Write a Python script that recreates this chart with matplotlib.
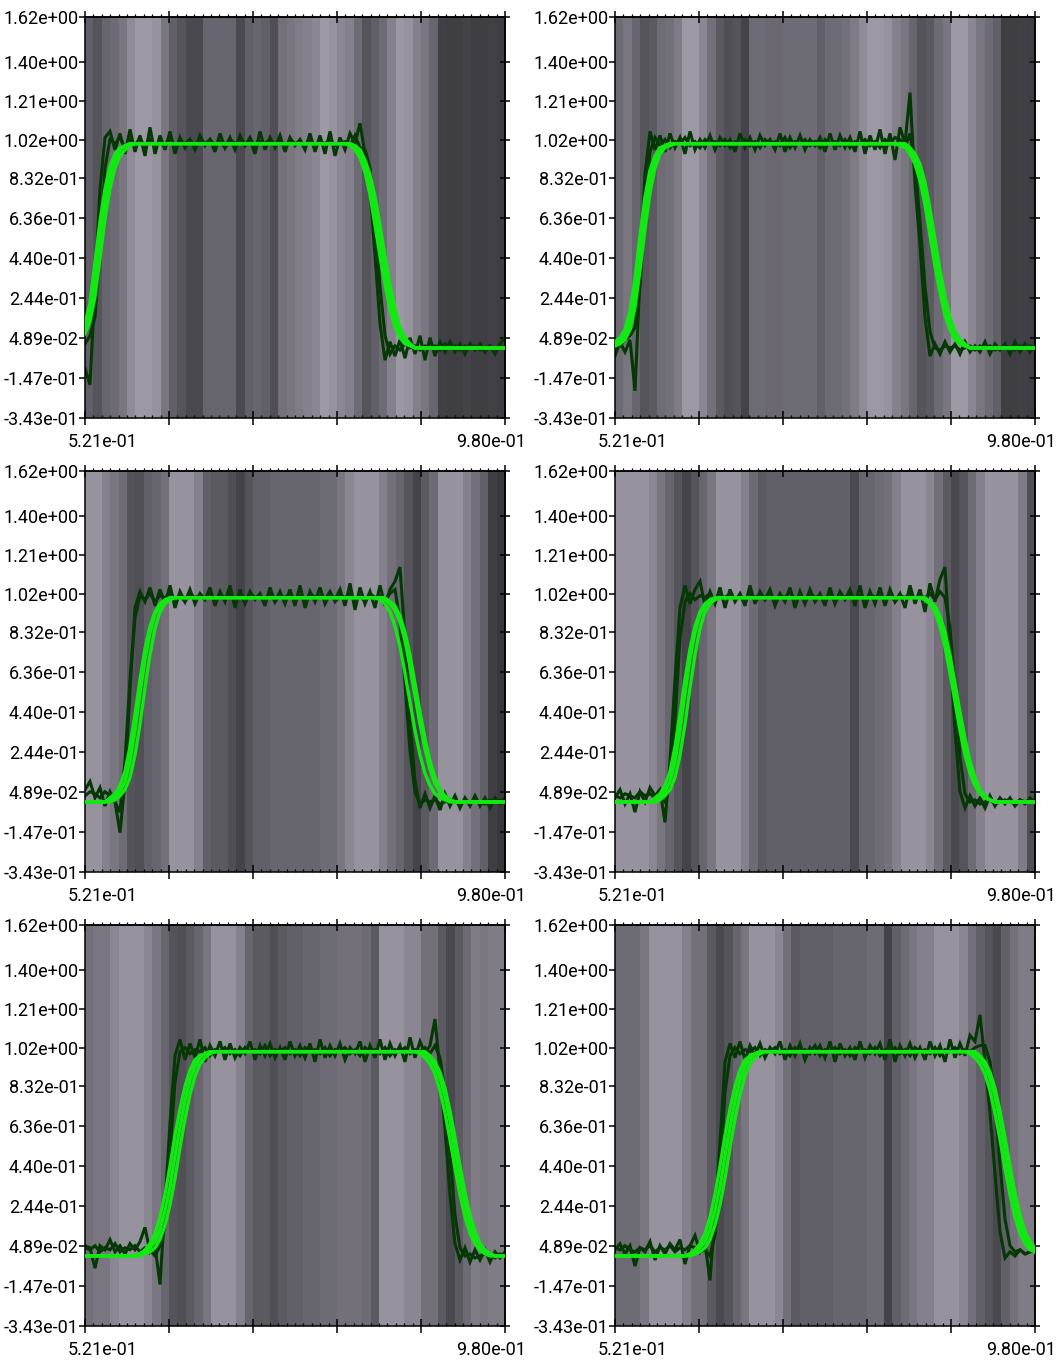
import numpy as np
import matplotlib
matplotlib.use("Agg")
import matplotlib.pyplot as plt
import matplotlib.transforms as mtransforms
from matplotlib.colors import LinearSegmentedColormap

plt.rcParams['font.family'] = ['Roboto', 'DejaVu Sans']

# axis ranges and labels
x_min, x_max = 0.521, 0.980
y_min, y_max = -0.343, 1.62
y_ticks = [-0.343, -0.147, 0.0489, 0.244, 0.440, 0.636, 0.832, 1.02, 1.21, 1.40, 1.62]
y_tick_labels = ['-3.43e-01', '-1.47e-01', '4.89e-02', '2.44e-01', '4.40e-01', '6.36e-01',
                 '8.32e-01', '1.02e+00', '1.21e+00', '1.40e+00', '1.62e+00']
x_end_labels = ['5.21e-01', '9.80e-01']

# background stripe shades (0 = dark, 1 = light), left to right
tl_bg = [0.4, 0.3, 0.45, 0.5, 0.6, 0.8, 0.9, 0.9, 0.85, 0.6, 0.4, 0.3, 0.2, 0.2, 0.45, 0.45, 0.45, 0.45, 0.2, 0.4,
         0.45, 0.4, 0.25, 0.55, 0.6, 0.65, 0.7, 0.75, 0.9, 0.85, 0.75, 0.7, 0.5, 0.3, 0.4, 0.5, 0.7, 0.9, 0.85, 0.7,
         0.6, 0.45, 0.12, 0.1, 0.1, 0.15, 0.1, 0.1, 0.12, 0.1]
tr_bg = [0.5, 0.6, 0.45, 0.3, 0.35, 0.5, 0.55, 0.65, 0.9, 0.9, 0.75, 0.55, 0.35, 0.25, 0.3, 0.15, 0.5, 0.5, 0.48, 0.48,
         0.5, 0.5, 0.5, 0.5, 0.4, 0.5, 0.5, 0.55, 0.65, 0.8, 0.9, 0.9, 0.85, 0.7, 0.6, 0.45, 0.3, 0.35, 0.5, 0.6,
         0.9, 0.9, 0.75, 0.6, 0.5, 0.4, 0.1, 0.1, 0.12, 0.1]
ml_bg = [0.85, 0.85, 0.7, 0.6, 0.5, 0.3, 0.25, 0.4, 0.45, 0.55, 0.85, 0.85, 0.85, 0.7, 0.4, 0.35, 0.35, 0.25, 0.15, 0.3,
         0.4, 0.4, 0.45, 0.45, 0.45, 0.45, 0.45, 0.45, 0.5, 0.5, 0.6, 0.75, 0.85, 0.85, 0.85, 0.7, 0.55, 0.45, 0.3, 0.15,
         0.35, 0.5, 0.85, 0.85, 0.85, 0.7, 0.55, 0.4, 0.1, 0.05]
mr_bg = [0.85, 0.85, 0.85, 0.85, 0.75, 0.6, 0.45, 0.3, 0.15, 0.3, 0.45, 0.6, 0.85, 0.85, 0.85, 0.7, 0.5, 0.35, 0.4, 0.4,
         0.4, 0.4, 0.4, 0.4, 0.4, 0.4, 0.4, 0.4, 0.2, 0.45, 0.45, 0.5, 0.55, 0.7, 0.85, 0.85, 0.85, 0.75, 0.55, 0.35,
         0.2, 0.3, 0.5, 0.7, 0.85, 0.85, 0.85, 0.85, 0.65, 0.25]
bl_bg = [0.55, 0.6, 0.6, 0.75, 0.85, 0.85, 0.85, 0.75, 0.6, 0.45, 0.3, 0.25, 0.35, 0.45, 0.6, 0.85, 0.85, 0.85, 0.7, 0.45,
         0.35, 0.35, 0.25, 0.35, 0.4, 0.4, 0.45, 0.45, 0.5, 0.5, 0.55, 0.55, 0.55, 0.5, 0.35, 0.85, 0.85, 0.85, 0.75, 0.75,
         0.55, 0.55, 0.35, 0.2, 0.35, 0.5, 0.65, 0.6, 0.65, 0.65]
br_bg = [0.5, 0.5, 0.5, 0.6, 0.85, 0.85, 0.85, 0.85, 0.7, 0.55, 0.55, 0.35, 0.2, 0.3, 0.45, 0.6, 0.85, 0.85, 0.85, 0.75,
         0.55, 0.35, 0.4, 0.4, 0.4, 0.4, 0.45, 0.45, 0.45, 0.45, 0.5, 0.5, 0.15, 0.4, 0.5, 0.6, 0.7, 0.7, 0.85, 0.85,
         0.85, 0.75, 0.55, 0.4, 0.3, 0.2, 0.4, 0.55, 0.65, 0.65]

# noisy (dark) solutions, 85 samples across the x range
tl_dark_a = [-0.10, -0.18, 0.30, 0.78, 1.03, 1.06, 0.97, 1.05, 0.95, 1.07,
             0.96, 1.04, 0.94, 1.08, 0.95, 1.04, 0.97, 1.06, 0.95, 1.03,
             0.98, 1.02, 0.97, 1.04, 0.99, 1.02, 0.96, 1.05, 0.98, 1.03,
             0.97, 1.04, 0.99, 1.02, 0.95, 1.06, 0.97, 1.03, 0.98, 1.04,
             0.96, 1.03, 0.99, 1.02, 0.97, 1.05, 0.96, 1.04, 0.95, 1.06,
             0.94, 1.03, 0.97, 1.05, 1.00, 1.10, 0.95, 0.78, 0.45, 0.12,
             -0.06, 0.03, -0.04, 0.04, -0.05, 0.05, -0.03, 0.06, -0.06, 0.05,
             -0.04, 0.03, -0.02, 0.03, -0.02, 0.02, -0.03, 0.02, -0.01, 0.02,
             -0.02, 0.01, -0.03, 0.02, 0.05]
tl_dark_b = [0.02, 0.06, 0.15, 0.50, 0.88, 1.02, 1.00, 1.03, 0.98, 1.02,
             0.99, 1.03, 0.98, 1.02, 0.99, 1.01, 0.98, 1.03, 0.99, 1.01,
             1.00, 1.02, 0.98, 1.01, 1.00, 1.02, 0.99, 1.01, 0.98, 1.02,
             1.00, 1.01, 0.99, 1.03, 0.98, 1.01, 1.00, 1.02, 0.99, 1.01,
             0.98, 1.02, 1.00, 1.01, 0.99, 1.02, 0.98, 1.01, 1.00, 1.02,
             0.99, 1.00, 1.01, 0.99, 1.04, 0.98, 0.97, 0.88, 0.62, 0.30,
             0.06, -0.03, 0.01, -0.01, 0.02, 0.00, 0.01, -0.01, 0.01, 0.00,
             0.01, -0.01, 0.02, 0.00, 0.01, -0.01, 0.01, 0.00, 0.01, -0.01,
             0.00, 0.01, -0.01, 0.01, 0.00]
tr_dark_a = [-0.04, 0.03, -0.02, 0.04, -0.21, 0.35, 0.85, 1.06, 0.97, 1.04,
             0.96, 1.05, 0.98, 1.03, 0.95, 1.06, 0.97, 1.02, 0.98, 1.04,
             0.97, 1.03, 0.99, 1.02, 0.96, 1.05, 0.98, 1.03, 0.97, 1.04,
             0.99, 1.02, 0.97, 1.05, 0.96, 1.03, 0.98, 1.04, 0.97, 1.02,
             0.99, 1.03, 0.96, 1.05, 0.97, 1.04, 0.98, 1.03, 0.96, 1.06,
             0.95, 1.04, 0.97, 1.07, 0.95, 1.05, 0.92, 1.08, 1.00, 1.25,
             0.80, 0.50, 0.15, -0.04, 0.02, -0.03, 0.03, -0.02, 0.02, -0.03,
             0.03, -0.02, 0.01, -0.02, 0.03, -0.03, 0.02, -0.01, 0.02, -0.03,
             0.03, -0.02, 0.02, -0.02, 0.01]
tr_dark_b = [0.02, 0.01, 0.04, 0.06, 0.10, 0.30, 0.70, 0.96, 1.03, 0.99,
             1.02, 0.98, 1.01, 1.00, 1.03, 0.99, 1.01, 0.98, 1.02, 1.00,
             1.01, 0.99, 1.02, 0.98, 1.01, 1.00, 1.02, 0.99, 1.01, 0.98,
             1.02, 1.00, 1.01, 0.99, 1.03, 0.98, 1.01, 1.00, 1.02, 0.99,
             1.01, 0.98, 1.02, 1.00, 1.01, 0.99, 1.02, 0.98, 1.01, 1.00,
             1.02, 0.99, 1.01, 0.98, 1.02, 1.00, 1.03, 1.02, 0.98, 1.05,
             0.90, 0.62, 0.30, 0.08, 0.00, -0.01, 0.01, 0.00, 0.01, -0.01,
             0.00, 0.01, -0.01, 0.01, 0.00, 0.01, -0.01, 0.00, 0.01, 0.00,
             -0.01, 0.01, 0.00, 0.01, 0.00]
ml_dark_a = [0.06, 0.10, 0.02, 0.07, -0.02, 0.05, 0.00, -0.15, 0.10, 0.55,
             0.95, 1.03, 0.98, 1.05, 0.96, 1.04, 0.97, 1.06, 0.95, 1.03,
             0.98, 1.04, 0.97, 1.02, 0.99, 1.05, 0.96, 1.03, 0.98, 1.06,
             0.95, 1.04, 0.97, 1.03, 0.99, 1.02, 0.96, 1.05, 0.98, 1.03,
             0.97, 1.04, 0.96, 1.06, 0.95, 1.03, 0.98, 1.05, 0.97, 1.02,
             0.99, 1.04, 0.96, 1.07, 0.94, 1.05, 0.97, 1.03, 0.95, 1.06,
             0.96, 1.04, 1.08, 1.15, 0.80, 0.40, 0.10, -0.03, 0.04, -0.03,
             0.03, -0.04, 0.04, -0.02, 0.03, -0.03, 0.02, -0.02, 0.03, -0.02,
             0.02, -0.03, 0.02, -0.01, 0.02]
ml_dark_b = [0.03, 0.05, 0.04, 0.02, 0.05, 0.03, 0.00, -0.05, 0.20, 0.60,
             0.90, 1.01, 0.99, 1.02, 0.98, 1.01, 1.00, 1.02, 0.99, 1.01,
             0.98, 1.02, 1.00, 1.01, 0.99, 1.03, 0.98, 1.01, 1.00, 1.02,
             0.99, 1.01, 0.98, 1.02, 1.00, 1.01, 0.99, 1.02, 0.98, 1.01,
             1.00, 1.02, 0.99, 1.01, 0.98, 1.02, 1.00, 1.01, 0.99, 1.03,
             0.98, 1.01, 1.00, 1.02, 0.99, 1.01, 0.98, 1.02, 1.00, 1.01,
             0.99, 1.02, 1.04, 0.88, 0.58, 0.25, 0.05, -0.01, 0.01, 0.00,
             0.01, -0.01, 0.00, 0.01, 0.00, -0.01, 0.01, 0.00, 0.01, 0.00,
             -0.01, 0.01, 0.00, 0.01, 0.00]
mr_dark_a = [0.02, 0.06, -0.01, 0.04, -0.05, 0.05, 0.00, 0.07, 0.03, 0.06,
             -0.10, 0.20, 0.60, 0.95, 1.06, 0.97, 1.04, 1.08, 0.96, 1.03,
             0.97, 1.05, 0.95, 1.04, 0.98, 1.02, 0.96, 1.06, 0.97, 1.03,
             0.99, 1.04, 0.96, 1.02, 0.98, 1.05, 0.95, 1.03, 0.97, 1.04,
             0.98, 1.02, 0.96, 1.05, 0.97, 1.03, 0.99, 1.04, 0.96, 1.06,
             0.95, 1.03, 0.97, 1.05, 0.96, 1.04, 0.98, 1.02, 0.95, 1.06,
             0.97, 1.04, 0.93, 1.07, 0.98, 1.09, 1.15, 0.75, 0.35, 0.05,
             -0.03, 0.03, -0.02, 0.02, -0.03, 0.03, -0.02, 0.02, -0.01, 0.02,
             -0.02, 0.01, -0.01, 0.02, 0.00]
mr_dark_b = [0.03, 0.02, 0.04, 0.03, 0.02, 0.05, 0.03, 0.04, 0.02, 0.03,
             0.00, 0.08, 0.40, 0.80, 0.98, 1.02, 0.99, 1.01, 1.00, 1.02,
             0.98, 1.01, 1.00, 1.02, 0.99, 1.01, 0.98, 1.02, 1.00, 1.01,
             0.99, 1.02, 0.98, 1.01, 1.00, 1.03, 0.99, 1.01, 0.98, 1.02,
             1.00, 1.01, 0.99, 1.02, 0.98, 1.01, 1.00, 1.02, 0.99, 1.01,
             0.98, 1.02, 1.00, 1.01, 0.99, 1.02, 0.98, 1.01, 1.00, 1.02,
             0.99, 1.01, 1.00, 1.02, 0.99, 1.03, 1.00, 0.85, 0.55, 0.22,
             0.04, 0.00, 0.01, -0.01, 0.00, 0.01, -0.01, 0.00, 0.01, 0.00,
             -0.01, 0.01, 0.00, 0.01, 0.00]
bl_dark_a = [0.05, 0.04, -0.06, 0.05, 0.03, 0.08, 0.02, 0.05, 0.01, 0.06,
             0.03, 0.07, 0.14, 0.02, 0.05, -0.14, 0.25, 0.65, 0.98, 1.06,
             0.96, 1.04, 0.97, 1.06, 0.95, 1.03, 0.98, 1.05, 0.96, 1.04,
             0.97, 1.02, 0.99, 1.05, 0.96, 1.03, 0.98, 1.04, 0.97, 1.02,
             0.96, 1.05, 0.98, 1.03, 0.97, 1.04, 0.95, 1.06, 0.97, 1.03,
             0.98, 1.04, 0.96, 1.02, 0.99, 1.05, 0.95, 1.03, 0.97, 1.06,
             0.96, 1.04, 0.98, 1.03, 0.95, 1.07, 0.97, 1.05, 0.99, 1.03,
             1.16, 0.90, 0.62, 0.30, 0.06, -0.02, 0.04, -0.03, 0.03, -0.02,
             0.03, -0.03, 0.02, -0.01, 0.02]
bl_dark_b = [0.04, 0.03, 0.05, 0.02, 0.04, 0.03, 0.06, 0.02, 0.04, 0.03,
             0.05, 0.02, 0.04, 0.03, 0.00, 0.05, 0.15, 0.50, 0.85, 1.00,
             1.02, 0.99, 1.01, 1.00, 1.02, 0.98, 1.01, 1.00, 1.02, 0.99,
             1.01, 0.98, 1.02, 1.00, 1.01, 0.99, 1.03, 0.98, 1.01, 1.00,
             1.02, 0.99, 1.01, 0.98, 1.02, 1.00, 1.01, 0.99, 1.02, 0.98,
             1.01, 1.00, 1.02, 0.99, 1.01, 0.98, 1.02, 1.00, 1.01, 0.99,
             1.02, 0.98, 1.01, 1.00, 1.02, 0.99, 1.01, 1.00, 1.02, 0.99,
             1.03, 0.97, 0.80, 0.50, 0.20, 0.04, 0.00, 0.01, -0.01, 0.00,
             0.01, 0.00, -0.01, 0.01, 0.00]
br_dark_a = [0.03, 0.06, 0.01, 0.05, -0.05, 0.04, 0.02, 0.07, -0.02, 0.05,
             0.01, 0.06, 0.03, 0.08, -0.04, 0.05, 0.10, 0.02, 0.06, -0.12,
             0.20, 0.55, 0.95, 1.04, 0.97, 1.05, 0.96, 1.03, 0.98, 1.04,
             0.97, 1.02, 0.99, 1.05, 0.96, 1.03, 0.98, 1.04, 0.96, 1.02,
             0.99, 1.03, 0.97, 1.05, 0.95, 1.04, 0.98, 1.02, 0.96, 1.05,
             0.97, 1.03, 0.99, 1.04, 0.96, 1.06, 0.95, 1.03, 0.98, 1.04,
             0.97, 1.02, 0.96, 1.05, 0.98, 1.03, 0.95, 1.06, 0.97, 1.04,
             0.98, 1.08, 1.05, 1.18, 0.95, 0.70, 0.40, 0.12, -0.01, 0.02,
             0.00, 0.03, 0.01, 0.02, 0.03]
br_dark_b = [0.04, 0.03, 0.05, 0.03, 0.02, 0.04, 0.03, 0.05, 0.02, 0.04,
             0.03, 0.05, 0.02, 0.04, 0.03, 0.05, 0.04, 0.02, 0.03, 0.00,
             0.10, 0.40, 0.80, 0.98, 1.02, 0.99, 1.01, 1.00, 1.02, 0.98,
             1.01, 1.00, 1.02, 0.99, 1.01, 0.98, 1.02, 1.00, 1.01, 0.99,
             1.03, 0.98, 1.01, 1.00, 1.02, 0.99, 1.01, 0.98, 1.02, 1.00,
             1.01, 0.99, 1.02, 0.98, 1.01, 1.00, 1.02, 0.99, 1.01, 0.98,
             1.02, 1.00, 1.01, 0.99, 1.02, 0.98, 1.01, 1.00, 1.02, 0.99,
             1.01, 1.00, 1.02, 1.03, 1.03, 0.95, 0.75, 0.45, 0.18, 0.05,
             0.02, 0.03, 0.01, 0.02, 0.03]

# smooth (bright) solutions, 85 samples across the x range
tl_bright_a = ([0.12, 0.22, 0.42, 0.62, 0.78, 0.89, 0.95, 0.98, 0.99] + [1.0] * 44
               + [0.99, 0.97, 0.93, 0.86, 0.75, 0.6, 0.45, 0.31, 0.19, 0.1, 0.05, 0.02, 0.01] + [0.0] * 19)
tl_bright_b = ([0.09, 0.17, 0.33, 0.53, 0.71, 0.84, 0.92, 0.97, 0.99] + [1.0] * 44
               + [1.0, 0.98, 0.95, 0.9, 0.81, 0.68, 0.53, 0.38, 0.25, 0.15, 0.08, 0.04, 0.02] + [0.0] * 19)
tl_bright_c = ([0.07, 0.13, 0.25, 0.44, 0.63, 0.78, 0.88, 0.94, 0.97, 0.99] + [1.0] * 43
               + [1.0, 0.99, 0.97, 0.92, 0.85, 0.74, 0.6, 0.45, 0.31, 0.19, 0.1, 0.05, 0.02] + [0.0] * 19)
tr_bright_a = ([0.02, 0.03, 0.06, 0.13, 0.27, 0.47, 0.67, 0.83, 0.92, 0.97, 0.99] + [1.0] * 47
               + [0.99, 0.97, 0.93, 0.86, 0.75, 0.6, 0.45, 0.31, 0.19, 0.1, 0.05, 0.02, 0.01] + [0.0] * 14)
tr_bright_b = ([0.01, 0.02, 0.04, 0.09, 0.2, 0.38, 0.58, 0.76, 0.88, 0.95, 0.98, 0.99] + [1.0] * 46
               + [1.0, 0.98, 0.95, 0.9, 0.81, 0.68, 0.53, 0.38, 0.25, 0.15, 0.08, 0.04, 0.02] + [0.0] * 14)
tr_bright_c = ([0.03, 0.05, 0.09, 0.18, 0.34, 0.55, 0.74, 0.87, 0.94, 0.98, 0.99] + [1.0] * 46
               + [0.99, 0.98, 0.95, 0.9, 0.82, 0.7, 0.55, 0.4, 0.27, 0.16, 0.09, 0.04, 0.02, 0.01] + [0.0] * 14)
ml_bright_a = ([0.0] * 5 + [0.01, 0.02, 0.05, 0.1, 0.2, 0.35, 0.53, 0.7, 0.83, 0.92, 0.96, 0.98, 0.99] + [1.0] * 42
               + [0.99, 0.97, 0.94, 0.88, 0.79, 0.66, 0.52, 0.38, 0.26, 0.16, 0.09, 0.05, 0.02, 0.01] + [0.0] * 11)
ml_bright_b = ([0.0] * 5 + [0.02, 0.04, 0.08, 0.15, 0.27, 0.43, 0.6, 0.75, 0.86, 0.93, 0.97, 0.99] + [1.0] * 43
               + [1.0, 0.98, 0.96, 0.91, 0.83, 0.72, 0.58, 0.44, 0.31, 0.2, 0.12, 0.06, 0.03, 0.01] + [0.0] * 11)
ml_bright_c = ([0.0] * 6 + [0.01, 0.03, 0.06, 0.12, 0.23, 0.38, 0.56, 0.72, 0.85, 0.93, 0.97, 0.99] + [1.0] * 41
               + [0.99, 0.97, 0.93, 0.86, 0.76, 0.63, 0.49, 0.35, 0.23, 0.14, 0.08, 0.04, 0.02, 0.01] + [0.0] * 12)
mr_bright_a = ([0.0] * 8 + [0.01, 0.02, 0.05, 0.1, 0.2, 0.35, 0.53, 0.7, 0.83, 0.92, 0.96, 0.98, 0.99] + [1.0] * 41
               + [0.99, 0.97, 0.94, 0.88, 0.79, 0.66, 0.52, 0.38, 0.26, 0.16, 0.09, 0.05, 0.02, 0.01] + [0.0] * 9)
mr_bright_b = ([0.0] * 8 + [0.02, 0.04, 0.08, 0.15, 0.27, 0.43, 0.6, 0.75, 0.86, 0.93, 0.97, 0.99] + [1.0] * 43
               + [0.98, 0.96, 0.91, 0.83, 0.72, 0.58, 0.44, 0.31, 0.2, 0.12, 0.06, 0.03, 0.01] + [0.0] * 9)
mr_bright_c = ([0.0] * 9 + [0.01, 0.03, 0.06, 0.12, 0.23, 0.38, 0.56, 0.72, 0.85, 0.93, 0.97, 0.99] + [1.0] * 41
               + [0.99, 0.97, 0.93, 0.86, 0.76, 0.63, 0.49, 0.35, 0.23, 0.14, 0.08, 0.04, 0.02, 0.01] + [0.0] * 9)
bl_bright_a = ([0.0] * 11 + [0.01, 0.02, 0.04, 0.07, 0.13, 0.22, 0.34, 0.49, 0.63, 0.76, 0.86, 0.93, 0.97, 0.99]
               + [1.0] * 43 + [0.99, 0.97, 0.93, 0.87, 0.78, 0.66, 0.52, 0.38, 0.26, 0.16, 0.09, 0.05, 0.02, 0.01]
               + [0.0] * 3)
bl_bright_b = ([0.0] * 11 + [0.01, 0.03, 0.06, 0.11, 0.19, 0.3, 0.44, 0.59, 0.72, 0.83, 0.91, 0.96, 0.98, 0.99]
               + [1.0] * 44 + [0.98, 0.95, 0.9, 0.82, 0.71, 0.58, 0.44, 0.31, 0.2, 0.12, 0.06, 0.03, 0.01]
               + [0.0] * 3)
bl_bright_c = ([0.0] * 12 + [0.01, 0.02, 0.04, 0.08, 0.15, 0.25, 0.38, 0.53, 0.67, 0.79, 0.88, 0.94, 0.97, 0.99]
               + [1.0] * 41 + [0.99, 0.97, 0.94, 0.89, 0.81, 0.7, 0.57, 0.43, 0.3, 0.19, 0.11, 0.06, 0.03, 0.01]
               + [0.0] * 4)
br_bright_a = ([0.0] * 15 + [0.01, 0.02, 0.04, 0.07, 0.13, 0.22, 0.34, 0.49, 0.63, 0.76, 0.86, 0.93, 0.97, 0.99]
               + [1.0] * 43 + [0.99, 0.97, 0.93, 0.87, 0.78, 0.66, 0.52, 0.38, 0.26, 0.16, 0.09, 0.05, 0.02])
br_bright_b = ([0.0] * 15 + [0.01, 0.03, 0.06, 0.11, 0.19, 0.3, 0.44, 0.59, 0.72, 0.83, 0.91, 0.96, 0.98, 0.99]
               + [1.0] * 44 + [0.98, 0.95, 0.9, 0.82, 0.71, 0.58, 0.44, 0.31, 0.2, 0.12, 0.07, 0.04])
br_bright_c = ([0.0] * 16 + [0.01, 0.02, 0.04, 0.08, 0.15, 0.25, 0.38, 0.53, 0.67, 0.79, 0.88, 0.94, 0.97, 0.99]
               + [1.0] * 41 + [0.99, 0.97, 0.94, 0.89, 0.81, 0.7, 0.57, 0.43, 0.3, 0.19, 0.11, 0.06, 0.03, 0.02])

panels = [
    (tl_bg, [tl_dark_a, tl_dark_b], [tl_bright_a, tl_bright_b, tl_bright_c]),
    (tr_bg, [tr_dark_a, tr_dark_b], [tr_bright_a, tr_bright_b, tr_bright_c]),
    (ml_bg, [ml_dark_a, ml_dark_b], [ml_bright_a, ml_bright_b, ml_bright_c]),
    (mr_bg, [mr_dark_a, mr_dark_b], [mr_bright_a, mr_bright_b, mr_bright_c]),
    (bl_bg, [bl_dark_a, bl_dark_b], [bl_bright_a, bl_bright_b, bl_bright_c]),
    (br_bg, [br_dark_a, br_dark_b], [br_bright_a, br_bright_b, br_bright_c]),
]

W, H = 1058, 1363
bg_cmap = LinearSegmentedColormap.from_list('stripes', [(0.20, 0.20, 0.22), (0.66, 0.64, 0.69)])
dark_color = '#053805'
bright_color = '#12e812'
label_size = 13

fig = plt.figure(figsize=(W / 100, H / 100), dpi=100)
col_left = [85, 615]
row_top = [17, 471, 925]
ax_w, ax_h = 420, 401

for k, (bg, darks, brights) in enumerate(panels):
    r, c = divmod(k, 2)
    ax = fig.add_axes([col_left[c] / W, 1 - (row_top[r] + ax_h) / H, ax_w / W, ax_h / H])
    ax.imshow(np.array(bg)[None, :], cmap=bg_cmap, vmin=0, vmax=1, aspect='auto',
              extent=(x_min, x_max, y_min, y_max), interpolation='nearest', zorder=0)
    for y in darks:
        ax.plot(np.linspace(x_min, x_max, len(y)), y, color=dark_color, lw=2.2,
                solid_joinstyle='miter', zorder=2)
    for y in brights:
        ax.plot(np.linspace(x_min, x_max, len(y)), y, color=bright_color, lw=2.4, zorder=3)

    ax.set_xlim(x_min, x_max)
    ax.set_ylim(y_min, y_max)
    for s in ax.spines.values():
        s.set_linewidth(1.1)

    major_x = np.linspace(x_min, x_max, 6)
    minor_x = np.linspace(x_min, x_max, 51)
    ax.set_xticks(major_x)
    ax.set_xticks(minor_x, minor=True)
    ax.tick_params(axis='x', which='major', direction='inout', length=9.5, width=1.1,
                   labelbottom=False, top=False)
    ax.tick_params(axis='x', which='minor', direction='in', length=2.2, width=0.9, top=False)

    ax.set_yticks(y_ticks, labels=y_tick_labels)
    ax.tick_params(axis='y', direction='out', length=4, width=1.1, labelsize=label_size, pad=0.5,
                   right=False)

    top = ax.secondary_xaxis('top')
    top.set_xticks(major_x)
    top.set_xticks(minor_x, minor=True)
    top.tick_params(axis='x', which='major', direction='inout', length=9, width=1.1, labeltop=False)
    top.tick_params(axis='x', which='minor', direction='out', length=2.2, width=0.9)
    top.spines['top'].set_linewidth(1.1)

    right = ax.secondary_yaxis('right')
    right.set_yticks(y_ticks)
    right.tick_params(axis='y', direction='inout', length=7, width=1.1, labelright=False)
    right.spines['right'].set_linewidth(1.1)

    off_l = mtransforms.ScaledTranslation(18 / 100, -24 / 100, fig.dpi_scale_trans)
    off_r = mtransforms.ScaledTranslation(-14 / 100, -24 / 100, fig.dpi_scale_trans)
    ax.text(0, 0, x_end_labels[0], transform=ax.transAxes + off_l, ha='center', va='center',
            fontsize=label_size)
    ax.text(1, 0, x_end_labels[1], transform=ax.transAxes + off_r, ha='center', va='center',
            fontsize=label_size)

fig.savefig('out.png', dpi=100)
